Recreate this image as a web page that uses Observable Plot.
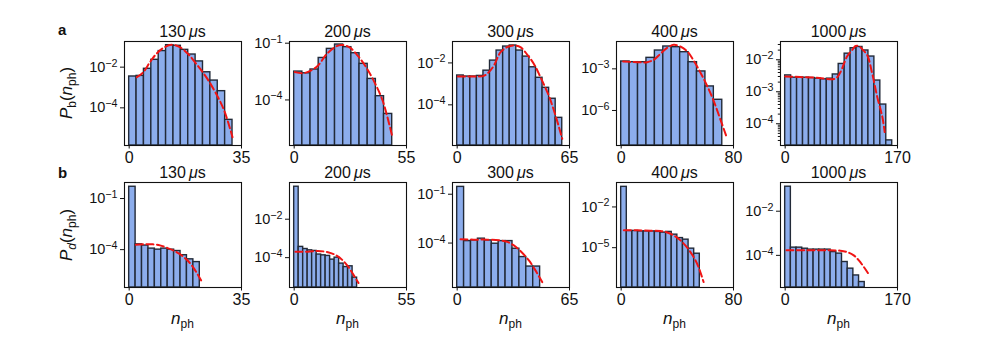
<!DOCTYPE html>
<html><head><meta charset="utf-8">
<script src="https://cdn.jsdelivr.net/npm/d3@7"></script>
<script src="https://cdn.jsdelivr.net/npm/@observablehq/plot@0.6"></script>
<style>
body{margin:0;background:#fff}
#fig{position:relative;width:997px;height:338px;font-family:"Liberation Sans",Arial,Helvetica,sans-serif}
#fig svg{position:absolute;overflow:visible}
</style>
</head><body><div id="fig"></div>
<script>
// ---------- tick labels / titles ----------
const titles = ["130", "200", "300", "400", "1000"];
const xMax = [35, 55, 65, 80, 170];
const yTicksA = [[1e-2, 1e-4], [1e-1, 1e-4], [1e-2, 1e-4], [1e-3, 1e-6], [1e-2, 1e-3, 1e-4]];
const yTicksB = [[1e-1, 1e-4], [1e-2, 1e-4], [1e-1, 1e-4], [1e-2, 1e-5], [1e-2, 1e-4]];
const yDomA = [[1.41e-6, 0.182], [3.9e-7, 0.123], [1.15e-6, 0.105], [3.0e-9, 0.0933], [2.09e-5, 0.0372]];
const yDomB = [[6.0e-7, 0.871], [2.8e-6, 0.813], [1.86e-7, 0.525], [1.17e-8, 0.631], [3.5e-6, 0.2]];

// ---------- row a: bright state P_b(n_ph) ----------
const a130Edges = [0, 2.3, 4.6, 6.9, 9.2, 11.5, 13.8, 16.1, 18.4, 20.7, 23, 25.3, 27.6, 29.9, 32.2];
const a130P = [3.47e-3, 3.72e-3, 8.3e-3, 0.0229, 0.0617, 0.12, 0.112, 0.0708, 0.0417, 0.0191, 5.6e-3, 2.19e-3, 6.6e-4, 2.57e-5];
const a130FitN = [2.4, 4.4, 6.5, 8.5, 10.6, 13.2, 15.8, 18.3, 20.9, 24.0, 27.1, 29.6, 32.2];
const a130FitP = [3.24e-3, 5.62e-3, 0.0178, 0.0457, 0.0871, 0.126, 0.0955, 0.0457, 0.0145, 3.24e-3, 4.9e-4, 7.4e-5, 3.6e-6];

const a200Edges = [0, 4, 8, 12, 16, 20, 24, 28, 32, 36, 40, 44, 48];
const a200P = [3.16e-3, 2.57e-3, 4.07e-3, 0.0166, 0.0501, 0.0851, 0.0617, 0.0295, 8.1e-3, 1.29e-3, 1.58e-4, 1.82e-5];
const a200FitN = [0.3, 4.1, 7.6, 11.7, 15.7, 19.8, 23.0, 27.1, 31.1, 35.2, 39.3, 43.3, 48.2];
const a200FitP = [2.95e-3, 2.57e-3, 3.31e-3, 6.6e-3, 0.0251, 0.0603, 0.0813, 0.0603, 0.0219, 5.4e-3, 8.7e-4, 9.3e-5, 9.8e-7];

const a300Edges = [0, 3.8, 7.6, 11.4, 15.2, 19, 22.8, 26.6, 30.4, 34.2, 38, 41.8, 45.6, 49.4, 53.2, 57, 60.8];
const a300P = [2.51e-3, 2.24e-3, 2.24e-3, 2.4e-3, 4.27e-3, 0.0129, 0.0389, 0.0603, 0.0676, 0.0389, 0.02, 6.2e-3, 1.95e-3, 6.5e-4, 1.95e-4, 2.4e-5];
const a300FitN = [0.4, 5.8, 11.6, 15.4, 18.3, 21.2, 25.1, 28.9, 32.8, 36.6, 40.5, 44.4, 48.2, 53.0, 56.9, 60.8];
const a300FitP = [2.24e-3, 2.24e-3, 2.24e-3, 2.4e-3, 3.63e-3, 7.4e-3, 0.0324, 0.0562, 0.0676, 0.0562, 0.0251, 8.9e-3, 2.09e-3, 2.75e-4, 3.1e-5, 2.4e-6];

const a400Edges = [0, 6, 12, 18, 24, 30, 36, 42, 48, 54, 60, 66, 72];
const a400P = [3.39e-3, 3.02e-3, 3.02e-3, 6.2e-3, 0.0209, 0.0407, 0.0363, 0.0158, 3.02e-3, 6.5e-4, 5.4e-5, 5.9e-6];
const a400FitN = [1.4, 11.4, 18.5, 23.2, 27.9, 32.7, 37.4, 42.1, 46.9, 51.6, 56.3, 61.1, 65.8, 70.5, 75.3];
const a400FitP = [3.39e-3, 3.02e-3, 3.02e-3, 4.47e-3, 0.012, 0.0324, 0.0537, 0.0407, 0.0186, 3.98e-3, 5.75e-4, 6.3e-5, 5.2e-6, 2.5e-7, 1.07e-8];

const a1000Edges = [0, 9, 18, 27, 36, 45, 54, 63, 72, 81, 90, 99, 108, 117, 126, 135, 144, 153, 162];
const a1000P = [3.24e-3, 2.75e-3, 2.75e-3, 2.75e-3, 2.69e-3, 2.57e-3, 2.45e-3, 2.57e-3, 3.47e-3, 7.4e-3, 0.0155, 0.0229, 0.0251, 0.0195, 0.0126, 2.24e-3, 3.98e-4, 3.02e-5];
const a1000FitN = [0, 22.4, 47.8, 75.8, 83.5, 93.6, 101.3, 106.4, 111.5, 116.5, 124.2, 131.8, 139.4, 147.1, 150.6];
const a1000FitP = [3.02e-3, 2.88e-3, 2.75e-3, 2.57e-3, 4.07e-3, 0.0126, 0.02, 0.0269, 0.0269, 0.0214, 0.0138, 3.63e-3, 6.8e-4, 1.62e-4, 5.5e-5];

// ---------- row b: dark state P_d(n_ph) ----------
const b130Edges = [0, 2, 4, 6, 8, 10, 12, 14, 16, 18, 20, 22];
const b130P = [0.49, 2.04e-4, 1.74e-4, 1.15e-4, 1.0e-4, 1.15e-4, 1.0e-4, 8.3e-5, 4.7e-5, 2.7e-5, 1.86e-5];
const b130FitN = [2.1, 4.4, 7.5, 9.6, 11.6, 13.7, 15.8, 17.8, 19.9, 22.4];
const b130FitP = [1.95e-4, 2.04e-4, 2.04e-4, 1.78e-4, 1.32e-4, 9.1e-5, 5.4e-5, 2.7e-5, 9.5e-6, 1.58e-6];

const b200Edges = [0, 2.2, 4.4, 6.6, 8.8, 11, 13.2, 15.4, 17.6, 19.8, 22, 24.2, 26.4, 28.6, 30.8];
const b200P = [0.49, 3.63e-4, 2.82e-4, 2.4e-4, 2.24e-4, 1.45e-4, 1.32e-4, 1.23e-4, 7.9e-5, 1.0e-4, 4.9e-5, 3.24e-5, 3.55e-5, 9.1e-6];
const b200FitN = [0.6, 6.8, 11.7, 16.5, 20.6, 23.8, 26.6, 29.2, 31.5];
const b200FitP = [2.0e-4, 2.04e-4, 2.24e-4, 1.91e-4, 1.32e-4, 7.2e-5, 3.24e-5, 1.2e-5, 4.8e-6];

const b300Edges = [0, 4, 8, 12, 16, 20, 24, 28, 32, 36, 40, 44, 48];
const b300P = [0.282, 1.32e-4, 1.45e-4, 1.86e-4, 1.45e-4, 9.1e-5, 1.32e-4, 1.32e-4, 4.47e-5, 1.38e-5, 3.6e-6, 3.6e-6];
const b300FitN = [1.9, 9.6, 17.4, 25.1, 28.9, 32.8, 36.6, 41.5, 45.3, 49.2];
const b300FitP = [1.7e-4, 1.62e-4, 1.62e-4, 1.45e-4, 1.2e-4, 7.2e-5, 3.24e-5, 8.5e-6, 2.1e-6, 4.0e-7];

const b400Edges = [0, 4, 8, 12, 16, 20, 24, 28, 32, 36, 40, 44, 48, 52, 56];
const b400P = [0.302, 1.7e-4, 1.7e-4, 1.58e-4, 1.58e-4, 1.58e-4, 1.45e-4, 1.29e-4, 1.45e-4, 9.1e-5, 5.1e-5, 3.9e-5, 8.5e-6, 3.6e-6];
const b400FitN = [1.9, 11.4, 20.8, 27.9, 33.8, 39.8, 45.7, 51.6, 55.1, 58.7];
const b400FitP = [1.91e-4, 1.91e-4, 1.78e-4, 1.7e-4, 1.2e-4, 5.5e-5, 1.48e-5, 2.04e-6, 3.7e-7, 2.95e-8];

const b1000Edges = [0, 8.6, 17.2, 25.8, 34.4, 43, 51.6, 60.2, 68.8, 77.4, 86, 94.6, 103.2, 111.8, 120.4];
const b1000P = [0.129, 2.24e-4, 2.24e-4, 2.0e-4, 1.82e-4, 1.82e-4, 1.82e-4, 1.82e-4, 1.41e-4, 1.2e-4, 5.0e-5, 2.5e-5, 1.23e-5, 6.2e-6];
const b1000FitN = [2, 32.6, 63.1, 83.5, 93.6, 103.8, 111.5, 119.1, 125.2];
const b1000FitP = [1.7e-4, 1.7e-4, 1.7e-4, 1.62e-4, 1.41e-4, 1.0e-4, 5.9e-5, 2.95e-5, 1.58e-5];

// ---------- layout ----------
const colLeft = [124, 289, 452, 616, 780];
const rowTop = [41, 182];
const rowH = [104, 105];
const W = 117;
const ML = 52, MR = 26, MT = 6, MB = 30;
const FONT = '"Liberation Sans", Arial, Helvetica, sans-serif';
const NS = "http://www.w3.org/2000/svg";
const fig = document.getElementById("fig");

const rowA = [
  [a130Edges, a130P, a130FitN, a130FitP],
  [a200Edges, a200P, a200FitN, a200FitP],
  [a300Edges, a300P, a300FitN, a300FitP],
  [a400Edges, a400P, a400FitN, a400FitP],
  [a1000Edges, a1000P, a1000FitN, a1000FitP]
];
const rowB = [
  [b130Edges, b130P, b130FitN, b130FitP],
  [b200Edges, b200P, b200FitN, b200FitP],
  [b300Edges, b300P, b300FitN, b300FitP],
  [b400Edges, b400P, b400FitN, b400FitP],
  [b1000Edges, b1000P, b1000FitN, b1000FitP]
];

function minorTicks(dom) {
  const out = [];
  for (let e = -10; e <= 0; e++) for (let m = 2; m <= 9; m++) {
    const v = m * Math.pow(10, e);
    if (v > dom[0] && v < dom[1]) out.push(v);
  }
  return out;
}

function drawPanel(series, col, row, yTicks, yDom, minor) {
  const [edges, probs, fitN, fitP] = series;
  const yLo = yDom[0];
  const bins = probs.map((p, i) => ({x1: edges[i], x2: edges[i + 1], p}));
  const fit = fitN.map((n, i) => ({n, p: fitP[i]}));
  const H = rowH[row];
  const xm = xMax[col];
  const marks = [
    Plot.rect(bins, {x1: "x1", x2: "x2", y1: () => yLo, y2: "p", inset: 0,
      fill: "#8cadec", stroke: "#222a38", strokeWidth: 1.4}),
    Plot.line(fit, {x: "n", y: "p", stroke: "#f01414", strokeWidth: 2,
      strokeDasharray: "7,3.5", curve: "catmull-rom"}),
    Plot.axisX({ticks: [0, xm], tickSize: 3.5, tickPadding: 2.5, fontSize: 16,
      label: null, tickFormat: d => String(d), stroke: "#111"}),
    Plot.axisY({ticks: yTicks, tickSize: 4, tickPadding: 3, fontSize: 14.5,
      label: null, tickFormat: d => "10^" + Math.round(Math.log10(d)), stroke: "#111"}),
    Plot.frame({stroke: "#111", strokeWidth: 1.1})
  ];
  if (minor) marks.push(Plot.axisY({ticks: minorTicks(yDom), tickSize: 2.2, label: null,
    tickFormat: () => "", stroke: "#111"}));
  const svg = Plot.plot({
    width: ML + W + MR, height: MT + H + MB,
    marginLeft: ML, marginRight: MR, marginTop: MT, marginBottom: MB,
    style: {background: "none", fontFamily: FONT, color: "#111", overflow: "visible"},
    x: {domain: [-0.0417 * xm, xm]},
    y: {type: "log", domain: yDom},
    marks
  });
  svg.style.left = (colLeft[col] - ML) + "px";
  svg.style.top = (rowTop[row] - MT) + "px";
  svg.querySelectorAll('g[aria-label="y-axis tick label"] text').forEach(t => {
    const s = t.textContent;
    if (!s.startsWith("10^")) return;
    const e = s.slice(3).replace("-", "\u2212");
    t.textContent = "10";
    const ts = document.createElementNS(NS, "tspan");
    ts.setAttribute("dy", "-0.48em");
    ts.setAttribute("font-size", "0.74em");
    ts.textContent = e;
    t.appendChild(ts);
  });
  fig.appendChild(svg);
}

for (let c = 0; c < 5; c++) {
  drawPanel(rowA[c], c, 0, yTicksA[c], yDomA[c], c === 4);
  drawPanel(rowB[c], c, 1, yTicksB[c], yDomB[c], false);
}

// ---------- text overlay ----------
const ov = d3.select(fig).append("svg").attr("width", 997).attr("height", 338)
  .style("left", "0px").style("top", "0px").style("pointer-events", "none")
  .attr("font-family", FONT).attr("fill", "#111");

const titleBase = [37, 178];
for (let r = 0; r < 2; r++) for (let c = 0; c < 5; c++) {
  const t = ov.append("text").attr("x", colLeft[c] + W / 2).attr("y", titleBase[r])
    .attr("text-anchor", "middle").attr("font-size", 16);
  t.append("tspan").text(titles[c] + "\u2009");
  t.append("tspan").attr("font-style", "italic").text("\u03bc");
  t.append("tspan").text("s");
}
for (let c = 0; c < 5; c++) {
  const t = ov.append("text").attr("x", colLeft[c] + W / 2).attr("y", 324)
    .attr("text-anchor", "middle").attr("font-size", 17);
  t.append("tspan").attr("font-style", "italic").text("n");
  t.append("tspan").attr("font-size", 12).attr("dy", 4).text("ph");
}
ov.append("text").attr("x", 58).attr("y", 35).attr("font-weight", "bold").attr("font-size", 15).text("a");
ov.append("text").attr("x", 58).attr("y", 178).attr("font-weight", "bold").attr("font-size", 15).text("b");

function yLabel(cy, sub, subItalic) {
  const t = ov.append("text").attr("transform", `translate(72,${cy}) rotate(-90)`)
    .attr("text-anchor", "middle").attr("font-size", 17);
  t.append("tspan").attr("font-style", "italic").text("P");
  t.append("tspan").attr("font-size", 12).attr("dy", 4).attr("font-style", subItalic ? "italic" : "normal").text(sub);
  t.append("tspan").attr("dy", -4).text("(");
  t.append("tspan").attr("font-style", "italic").text("n");
  t.append("tspan").attr("font-size", 12).attr("dy", 4).text("ph");
  t.append("tspan").attr("dy", -4).text(")");
}
yLabel(93, "b", false);
yLabel(235, "d", true);
</script></body></html>
